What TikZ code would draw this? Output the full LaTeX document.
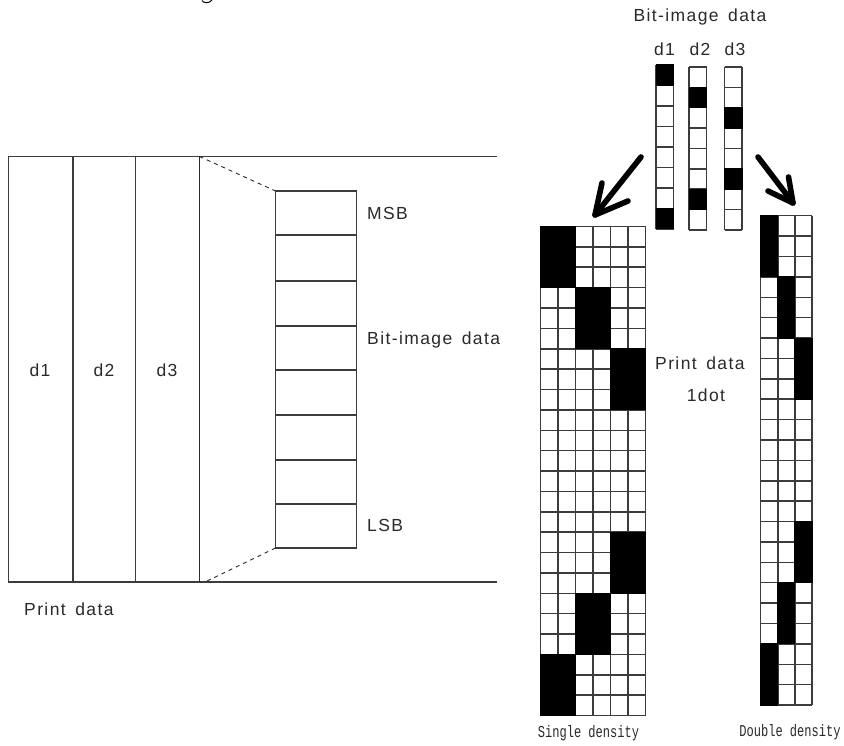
\documentclass[tikz,border=0pt]{standalone}
\usepackage{fontspec}
\usepackage{graphicx}
\setmainfont{Liberation Sans}
\newfontfamily\lblfont[LetterSpace=8]{Liberation Sans}
\newfontfamily\capfont{Liberation Mono}
\definecolor{ink}{HTML}{2A2A2A}
\definecolor{gridc}{HTML}{3C3C3C}
\newcommand{\wgap}{\hspace{9.5pt}}
\tikzset{
  lbl/.style={font=\lblfont\fontsize{17.5}{20}\selectfont, text=ink, inner sep=0pt},
  capt/.style={font=\capfont\fontsize{12.3}{14}\selectfont, text=ink, inner sep=0pt},
  frameln/.style={draw=gridc, line width=1.3pt},
  gridln/.style={draw=gridc, line width=1.5pt},
  fillc/.style={fill=black, draw=black, line width=1pt},
  bigarrow/.style={draw=black, line width=5.6pt, line cap=round, line join=round},
  dotted link/.style={draw=ink, line width=0.9pt, dash pattern=on 4pt off 4pt},
  cellbox/.style={draw=gridc, line width=1.4pt, minimum width=81pt, inner sep=0pt, outer sep=0pt, anchor=north west}
}
% \denseblock{x0}{y0}{cw}{rh}{col}{row}{colspan}{rowspan}
\newcommand{\denseblock}[8]{\filldraw[fillc] ({#1+#5*#3},{#2+#6*#4}) rectangle ({#1+(#5+#7)*#3},{#2+(#6+#8)*#4});}
\newcommand{\gridlines}[6]{%x0 y0 cw rh ncols nrows
  \foreach \c in {0,...,#5} \draw[gridln] ({#1+\c*#3},#2) -- ({#1+\c*#3},{#2+#6*#4});
  \foreach \r in {0,...,#6} \draw[gridln] (#1,{#2+\r*#4}) -- ({#1+#5*#3},{#2+\r*#4});
}
\begin{document}
\begin{tikzpicture}[x=1pt,y=-1pt]
\useasboundingbox (0,0) rectangle (844,746);
\fill[white] (0,0) rectangle (844,746);

% cropped text fragment at top
\draw[black,line width=1pt] (202,0.5) .. controls (203,3) and (209,4) .. (212,0);

% Print data frame
\coordinate (ptl) at (8.5,156.5);
\coordinate (ptr) at (497,156.5);
\coordinate (pbl) at (8.5,582);
\coordinate (pbr) at (497,582);
\coordinate (dtop) at (199.5,156.5);
\coordinate (dbot) at (199.5,582);
\draw[frameln] (ptr) -- (ptl) -- (pbl) -- (pbr);
\draw[frameln] (73,156.5) -- (73,582);
\draw[frameln] (135.5,156.5) -- (135.5,582);
\draw[frameln,draw=ink] (dtop) -- (dbot);
\node[lbl] (pd1) at (40,370) {d1};
\node[lbl] (pd2) at (104,370) {d2};
\node[lbl] (pd3) at (167,370) {d3};
\node[lbl,anchor=west] (pdl) at (24,609) {Print\wgap data};

% Bit stack
\foreach \i/\a/\b in {1/191/235,2/235/281,3/281/326,4/326/370,5/370/415,6/415/460,7/460/504,8/504/548}{
  \pgfmathsetmacro{\hh}{\b-\a}
  \node[cellbox,minimum height=\hh pt] (s\i) at (275.5,\a) {};
}
\draw[dotted link] (dtop) -- (s1.north west);
\draw[dotted link] (s8.south west) -- (207,581);
\node[lbl,anchor=west] (msb) at (367,213) {MSB};
\node[lbl,anchor=west] (mid) at (367,340) {Bit-image\wgap data};
\node[lbl,anchor=west] (lsb) at (367,525) {LSB};

% Bit-image data top
\node[lbl] (bid) at (700,17) {Bit-image\wgap data};
\node[lbl] (hd1) at (664.5,49) {d1};
\node[lbl] (hd2) at (700,49) {d2};
\node[lbl] (hd3) at (735,49) {d3};

% d1 column
\gridlines{656}{65}{17.5}{20.5}{1}{8}
\denseblock{656}{65}{17.5}{20.5}{0}{0}{1}{1}
\denseblock{656}{65}{17.5}{20.5}{0}{7}{1}{1}
% d2 column
\gridlines{689}{67}{17.5}{20.375}{1}{8}
\denseblock{689}{67}{17.5}{20.375}{0}{1}{1}{1}
\denseblock{689}{67}{17.5}{20.375}{0}{6}{1}{1}
% d3 column
\gridlines{724.7}{67}{17.5}{20.375}{1}{8}
\denseblock{724.7}{67}{17.5}{20.375}{0}{2}{1}{1}
\denseblock{724.7}{67}{17.5}{20.375}{0}{5}{1}{1}

% Single density grid
\gridlines{540.5}{226.5}{17.5}{20.375}{6}{24}
\denseblock{540.5}{226.5}{17.5}{20.375}{0}{0}{2}{3}
\denseblock{540.5}{226.5}{17.5}{20.375}{2}{3}{2}{3}
\denseblock{540.5}{226.5}{17.5}{20.375}{4}{6}{2}{3}
\denseblock{540.5}{226.5}{17.5}{20.375}{4}{15}{2}{3}
\denseblock{540.5}{226.5}{17.5}{20.375}{2}{18}{2}{3}
\denseblock{540.5}{226.5}{17.5}{20.375}{0}{21}{2}{3}

% Double density grid
\gridlines{760.7}{215.7}{17.1}{20.39}{3}{24}
\denseblock{760.7}{215.7}{17.1}{20.39}{0}{0}{1}{3}
\denseblock{760.7}{215.7}{17.1}{20.39}{1}{3}{1}{3}
\denseblock{760.7}{215.7}{17.1}{20.39}{2}{6}{1}{3}
\denseblock{760.7}{215.7}{17.1}{20.39}{2}{15}{1}{3}
\denseblock{760.7}{215.7}{17.1}{20.39}{1}{18}{1}{3}
\denseblock{760.7}{215.7}{17.1}{20.39}{0}{21}{1}{3}

% Big arrows
\coordinate (la) at (641,157);
\coordinate (lt) at (595,215);
\coordinate (lb1) at (602,183);
\coordinate (lb2) at (628,201);
\draw[bigarrow] (la) -- (lt);
\draw[bigarrow] (lb1) -- (lt) -- (lb2);
\coordinate (ra) at (758,157);
\coordinate (rt) at (793,203);
\coordinate (rb1) at (788.5,177);
\coordinate (rb2) at (768,191);
\draw[bigarrow] (ra) -- (rt);
\draw[bigarrow] (rb1) -- (rt) -- (rb2);

% Central labels
\node[lbl,anchor=west] (pdr) at (655,363) {Print\wgap data};
\node[lbl] (dot) at (706,395) {1dot};

% Captions
\node[capt] (sd) at (588.5,733) {\scalebox{0.98}[1.35]{Single density}};
\node[capt] (dd) at (790,732) {\scalebox{0.98}[1.35]{Double density}};
\end{tikzpicture}
\end{document}
